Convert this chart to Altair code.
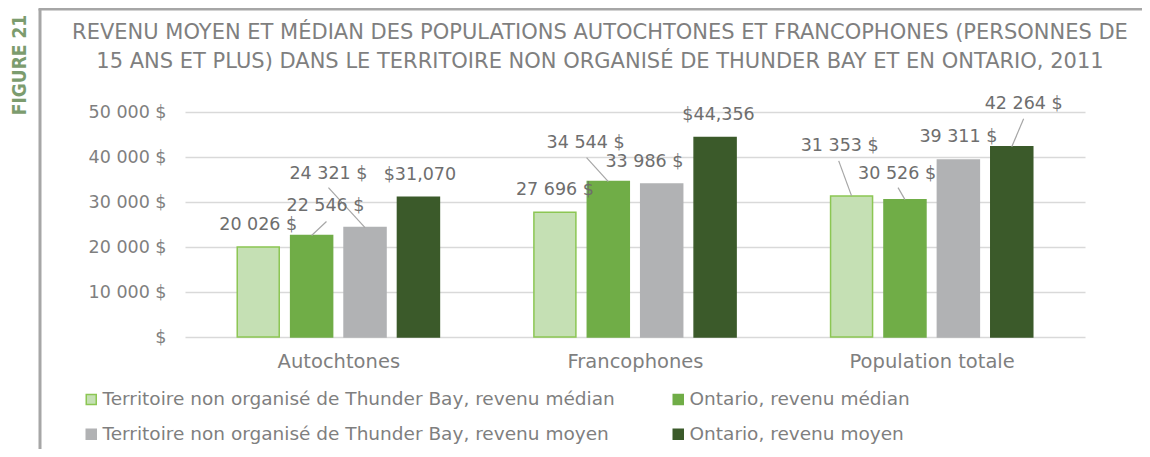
import json
import altair as alt
import pandas as pd

# ---------------- data ----------------
groups = ["Autochtones", "Francophones", "Population totale"]
series = [
    "Territoire non organisé de Thunder Bay, revenu médian",
    "Ontario, revenu médian",
    "Territoire non organisé de Thunder Bay, revenu moyen",
    "Ontario, revenu moyen",
]
tb_median = [20026, 27696, 31353]
on_median = [22546, 34544, 30526]
tb_mean = [24321, 33986, 39311]
on_mean = [31070, 44356, 42264]
label_text = [
    ["20 026 $", "22 546 $", "24 321 $", "$31,070"],
    ["27 696 $", "34 544 $", "33 986 $", "$44,356"],
    ["31 353 $", "30 526 $", "39 311 $", "42 264 $"],
]
y_ticks = [0, 10000, 20000, 30000, 40000, 50000]
title_lines = [
    "REVENU MOYEN ET MÉDIAN DES POPULATIONS AUTOCHTONES ET FRANCOPHONES (PERSONNES DE",
    "15 ANS ET PLUS) DANS LE TERRITOIRE NON ORGANISÉ DE THUNDER BAY ET EN ONTARIO, 2011",
]

# label placement (pixels relative to bar top centre, as in the original)
label_dx = [[0, 14, -37, 1.5], [0, -23, -17.5, 3.5], [-12, -8, 0, 12]]
label_dy = [[-21.6, -30, -54, -22], [-22, -39, -22, -22], [-50, -26, -23, -43]]
# leader lines end points (pixels relative to bar top centre)
leader = [
    [None, (15, -14), (-37, -40), None],
    [None, (-22, -24), None, None],
    [(-13, -35), (-7, -12), None, (12, -28)],
]

fills = ["#C5E0B4", "#70AD47", "#B1B2B4", "#3B5A2A"]
strokes = ["#8CC653", "#70AD47", "#B1B2B4", "#3B5A2A"]

FONT = "DejaVu Sans"
TXT = "#7F7F7F"

W, H = 900, 225
px_x = W / len(groups)          # pixels per x unit
usd_px = 50000 / H              # dollars per pixel
step = 0.18                     # series step within a group (x units)

vals = [tb_median, on_median, tb_mean, on_mean]
rows, lrows = [], []
for g, gname in enumerate(groups):
    for s, sname in enumerate(series):
        v = vals[s][g]
        pos = g + (s - 1.5) * step
        rows.append({
            "group": gname, "series": sname, "pos": pos, "value": v,
            "label": label_text[g][s],
            "lx": pos + label_dx[g][s] / px_x,
            "ly": v - label_dy[g][s] * usd_px,
        })
        if leader[g][s] is not None:
            ex, ey = leader[g][s]
            lrows.append({"pos": pos, "value": v,
                          "ex": pos + ex / px_x, "ey": v - ey * usd_px})
df = pd.DataFrame(rows)
dfl = pd.DataFrame(lrows)

xscale = alt.Scale(domain=[-0.5, len(groups) - 0.5], nice=False, zero=False)
yscale = alt.Scale(domain=[0, 50000], nice=False)

# legend fills column by column: order entries so rows read médian / moyen
legend_order = [series[0], series[2], series[1], series[3]]
legend = alt.Legend(
    title=None, orient="none", legendX=-103, legendY=278, columns=2,
    values=legend_order,
    columnPadding=54, rowPadding=16, symbolType="square", symbolSize=100,
    symbolStrokeWidth=1.5, labelFontSize=18.5, labelFont=FONT, labelColor=TXT,
    labelLimit=0, labelOffset=2,
)

bars = alt.Chart(df).mark_bar(strokeWidth=1.5, size=42).encode(
    x=alt.X("pos:Q", scale=xscale, axis=alt.Axis(
        values=list(range(len(groups))),
        labelExpr=json.dumps(groups) + "[datum.value]",
        grid=False, ticks=False, domain=False, title=None,
        labelFontSize=19.5, labelFont=FONT, labelColor=TXT, labelPadding=15)),
    y=alt.Y("value:Q", scale=yscale, axis=alt.Axis(
        values=y_ticks,
        labelExpr="datum.value == 0 ? '$' : format(datum.value / 1000, 'd') + ' 000 $'",
        title=None, ticks=False, domain=False, gridColor="#D9D9D9", gridWidth=1.5,
        labelFontSize=17.5, labelFont=FONT, labelColor=TXT, labelPadding=19)),
    fill=alt.Fill("series:N", scale=alt.Scale(domain=series, range=fills), legend=legend),
    stroke=alt.Stroke("series:N", scale=alt.Scale(domain=series, range=strokes), legend=legend),
)

leaders = alt.Chart(dfl).mark_rule(color="#A6A6A6", strokeWidth=1.2).encode(
    x=alt.X("pos:Q", scale=xscale), y=alt.Y("value:Q", scale=yscale),
    x2="ex:Q", y2="ey:Q",
)

labels = alt.Chart(df).mark_text(
    fontSize=17.5, font=FONT, color="#6E6E6E", align="center", baseline="middle"
).encode(
    x=alt.X("lx:Q", scale=xscale), y=alt.Y("ly:Q", scale=yscale), text="label:N"
)

one = pd.DataFrame({"k": [0]})
frame_left = alt.Chart(one).mark_rule(color="#A6A6A6", strokeWidth=3).encode(
    x=alt.value(-145), y=alt.value(-103), y2=alt.value(345))
frame_top = alt.Chart(one).mark_rule(color="#A6A6A6", strokeWidth=3).encode(
    x=alt.value(-146.5), x2=alt.value(960), y=alt.value(-103))
fig_label = alt.Chart(one).mark_text(
    angle=270, fontWeight="bold", fontSize=19,
    font="Liberation Sans Narrow, DejaVu Sans Condensed, sans-serif",
    color="#7C9C6E", align="center", baseline="middle"
).encode(x=alt.value(-165), y=alt.value(-47), text=alt.value("FIGURE 21"))

title = alt.Chart(one).mark_text(
    text=title_lines, fontSize=21, font=FONT, color=TXT, align="center",
    baseline="alphabetic", lineHeight=29,
).encode(x=alt.value(415), y=alt.value(-73))

chart = alt.layer(bars, leaders, labels, frame_left, frame_top, fig_label, title).properties(
    width=W, height=H,
    autosize=alt.AutoSizeParams(type="none"),
    padding={"left": 177, "top": 104, "right": 57, "bottom": 112},
).configure_view(stroke=None)

chart.save("out.html", embed_options={"renderer": "svg", "actions": False})
